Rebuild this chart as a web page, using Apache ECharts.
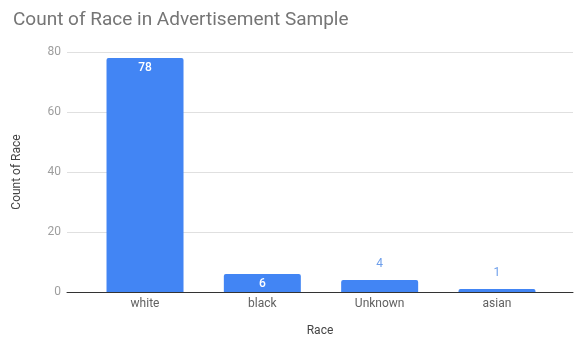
<!DOCTYPE html>
<html>
<head>
<meta charset="utf-8">
<script src="https://cdn.jsdelivr.net/npm/echarts@6/dist/echarts.min.js"></script>
<style>
html,body{margin:0;padding:0;background:#fff;}
#chart-con{width:574px;height:337px;}
</style>
</head>
<body>
<div id="chart-con"></div>
<script>
// 数据
var categories = ['white', 'black', 'Unknown', 'asian'];
var counts = [78, 6, 4, 1];
var yTicks = [0, 20, 40, 60, 80];

var dom = document.getElementById("chart-con");
var myChart = echarts.init(dom);

// 放得下的标签放在柱子里, 否则放在上面
var barData = [];
for (var i = 0; i < counts.length; i++) {
    var inside = counts[i] >= 6;
    barData.push({
        value: [i, counts[i]],
        label: inside ? {
            position: 'insideTop', distance: 4, color: '#ffffff', fontWeight: 500
        } : {
            position: 'top', distance: 10, color: '#6d9eeb'
        }
    });
}

var option = {
    title: {
        text: 'Count of Race in Advertisement Sample',
        left: 8,
        top: 6,
        textStyle: {
            fontFamily: 'Roboto',
            fontSize: 19,
            fontWeight: 'normal',
            color: '#757575'
        }
    },
    grid: {
        left: 67,
        right: 1,
        top: 52,
        bottom: 45,
        outerBoundsMode: 'none',
        containLabel: false
    },
    xAxis: {
        type: 'value',
        min: -0.665,
        max: 3.648,
        name: 'Race',
        nameLocation: 'middle',
        nameGap: 33,
        nameTextStyle: { fontFamily: 'Roboto', fontSize: 12, color: '#444' },
        splitLine: { show: false },
        axisTick: { show: false },
        axisLine: { show: true, onZero: false, lineStyle: { color: '#333', width: 1 } },
        axisLabel: {
            customValues: [0, 1, 2, 3],
            margin: 6,
            fontFamily: 'Roboto',
            fontSize: 12,
            color: '#616161',
            formatter: function (v) { return categories[Math.round(v)]; }
        }
    },
    yAxis: {
        type: 'value',
        min: yTicks[0],
        max: yTicks[yTicks.length - 1],
        interval: yTicks[1] - yTicks[0],
        name: 'Count of Race',
        nameLocation: 'middle',
        nameGap: 44,
        nameTextStyle: { fontFamily: 'Roboto', fontSize: 12, color: '#444' },
        axisLine: { show: false },
        axisTick: { show: false },
        splitLine: { lineStyle: { color: '#e0e0e0' } },
        axisLabel: {
            margin: 6,
            fontFamily: 'Roboto',
            fontSize: 12,
            color: '#9e9e9e'
        }
    },
    series: [
        {
            name: 'Count of Race',
            type: 'bar',
            barWidth: 77,
            itemStyle: { color: '#4285f4', borderRadius: [2, 2, 0, 0] },
            label: {
                show: true,
                fontFamily: 'Roboto',
                fontSize: 12,
                formatter: function (p) { return p.value[1]; }
            },
            data: barData
        }
    ]
};

if (option && typeof option === 'object') {
    myChart.setOption(option);
}
</script>
</body>
</html>
